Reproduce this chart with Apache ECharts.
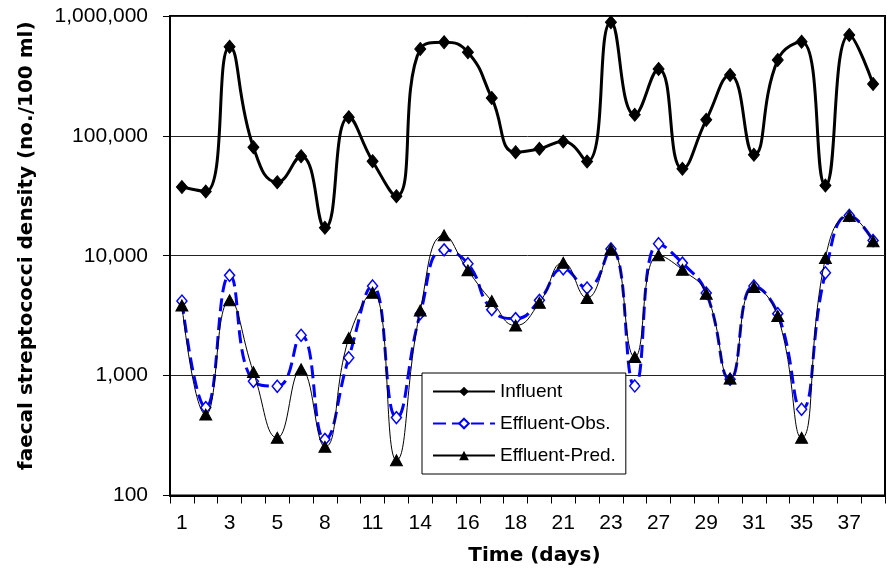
<!DOCTYPE html>
<html>
<head>
<meta charset="utf-8">
<script src="https://cdn.jsdelivr.net/npm/echarts@6/dist/echarts.min.js"></script>
<style>
html,body{margin:0;padding:0;background:#fff;}
#chart{width:887px;height:572px;}
</style>
</head>
<body>
<div id="chart"></div>
<script>
// Day categories (only every other one is labelled on the axis)
var days = ['1','2','3','4','5','7','8','10','11','13','14','15','16','17','18','20','21','22','23','25','27','28','29','30','31','33','35','36','37','38'];

var influent = [37400, 34300, 555000, 80500, 41100, 67700, 17100, 143000, 61500, 31400,
                531000, 604000, 498000, 207000, 73100, 78000, 89700, 61100, 886000, 150000,
                362000, 53100, 136000, 322000, 69500, 430000, 611000, 38500, 695000, 271000];

var effluentObs = [4190, 541, 6860, 897, 815, 2170, 294, 1410, 5590, 447,
                   3290, 11200, 8580, 3550, 2990, 4250, 7790, 5380, 11400, 820,
                   12600, 8690, 4890, 931, 5590, 3290, 524, 7210, 21700, 13400];

var effluentPred = [3850, 473, 4250, 1070, 303, 1130, 255, 2060, 4920, 197,
                    3500, 14800, 7550, 4190, 2620, 4060, 8750, 4440, 11300, 1430,
                    10100, 7640, 4820, 944, 5480, 3140, 303, 9570, 21400, 13200];

var yTicks = [100, 1000, 10000, 100000, 1000000];

var chart = echarts.init(document.getElementById('chart'), null, {renderer: 'canvas'});

function fmt(v) {
  return Math.round(v).toString().replace(/\B(?=(\d{3})+(?!\d))/g, ',');
}

var option = {
  animation: false,
  backgroundColor: '#fff',
  grid: {
    left: 170, right: 2, top: 16, bottom: 76.5,
    show: true, borderColor: '#000', borderWidth: 2, backgroundColor: 'transparent'
  },
  legend: {
    orient: 'vertical',
    left: 422, top: 373,
    width: 199,
    padding: [9, 10, 9, 10],
    itemGap: 13,
    itemWidth: 62,
    itemHeight: 12,
    borderColor: '#000',
    borderWidth: 1,
    backgroundColor: '#fff',
    textStyle: {fontFamily: 'Liberation Sans', fontSize: 19, color: '#000'},
    data: ['Influent', 'Effluent-Obs.', 'Effluent-Pred.']
  },
  xAxis: {
    type: 'category',
    data: days,
    boundaryGap: true,
    name: 'Time (days)',
    nameLocation: 'middle',
    nameGap: 50,
    nameTextStyle: {fontFamily: 'DejaVu Sans', fontWeight: 'bold', fontSize: 20, color: '#000',
                    padding: [0, 0, 0, 14]},
    axisLine: {lineStyle: {color: '#000', width: 2}},
    axisTick: {show: true, interval: 0, length: 8, lineStyle: {color: '#000', width: 1}},
    axisLabel: {interval: 1, margin: 17, fontFamily: 'Liberation Sans', fontSize: 21, color: '#000'},
    splitLine: {show: false}
  },
  yAxis: {
    type: 'log',
    logBase: 10,
    min: yTicks[0],
    max: yTicks[yTicks.length - 1],
    name: 'faecal streptococci density (no./100 ml)',
    nameLocation: 'middle',
    nameGap: 133,
    nameTextStyle: {fontFamily: 'DejaVu Sans', fontWeight: 'bold', fontSize: 20, color: '#000',
                    padding: [0, 0, 0, 20]},
    axisLine: {show: true, lineStyle: {color: '#000', width: 2}},
    axisTick: {show: true, length: 7, lineStyle: {color: '#000', width: 1}},
    axisLabel: {margin: 22, fontFamily: 'Liberation Sans', fontSize: 21, color: '#000',
                formatter: function (v) { return fmt(v); }},
    splitLine: {show: true, lineStyle: {color: '#222', width: 1}}
  },
  series: [
    {
      name: 'Influent',
      type: 'line',
      data: influent,
      smooth: 0.5,
      symbol: 'diamond',
      symbolSize: [11, 13],
      itemStyle: {color: '#000', borderColor: '#000'},
      lineStyle: {color: '#000', width: 3},
      z: 3
    },
    {
      name: 'Effluent-Obs.',
      type: 'line',
      data: effluentObs,
      smooth: 0.5,
      symbol: 'diamond',
      symbolSize: [10, 12],
      itemStyle: {color: '#fff', borderColor: '#0000ff', borderWidth: 1.5},
      lineStyle: {color: '#0000ff', width: 3, type: [13, 6]},
      z: 2
    },
    {
      name: 'Effluent-Pred.',
      type: 'line',
      data: effluentPred,
      smooth: 0.5,
      symbol: 'triangle',
      symbolSize: [12, 11],
      itemStyle: {color: '#000', borderColor: '#000'},
      lineStyle: {color: '#000', width: 1},
      z: 4
    }
  ]
};

chart.setOption(option);
</script>
</body>
</html>
